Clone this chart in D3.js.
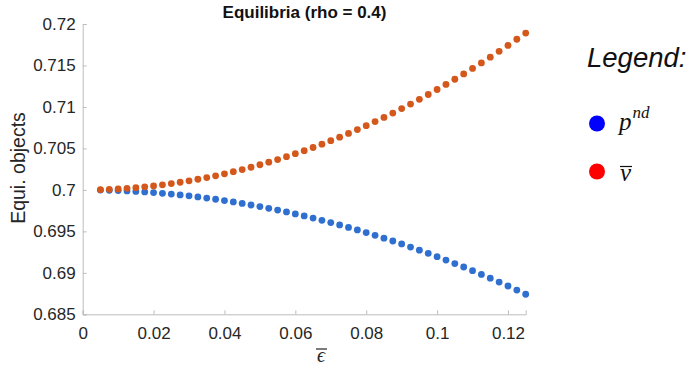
<!DOCTYPE html>
<html>
<head>
<meta charset="utf-8">
<script src="https://cdn.jsdelivr.net/npm/d3@7"></script>
<style>
  body { margin: 0; background: #fff; }
  svg { display: block; }
</style>
</head>
<body>
<svg id="chart" width="691" height="368"></svg>
<script>
// epsilon bar grid, 0.005 : 0.0025 : 0.125
const epsBar = [
  0.005, 0.0075, 0.01, 0.0125, 0.015, 0.0175, 0.02, 0.0225, 0.025, 0.0275,
  0.03, 0.0325, 0.035, 0.0375, 0.04, 0.0425, 0.045, 0.0475, 0.05, 0.0525,
  0.055, 0.0575, 0.06, 0.0625, 0.065, 0.0675, 0.07, 0.0725, 0.075, 0.0775,
  0.08, 0.0825, 0.085, 0.0875, 0.09, 0.0925, 0.095, 0.0975, 0.1, 0.1025,
  0.105, 0.1075, 0.11, 0.1125, 0.115, 0.1175, 0.12, 0.1225, 0.125
];

const pNd = [
  0.69998, 0.69995, 0.69992, 0.69987, 0.69982, 0.69975, 0.69968, 0.69959, 0.69950, 0.69939,
  0.69928, 0.69915, 0.69901, 0.69887, 0.69871, 0.69855, 0.69837, 0.69818, 0.69799, 0.69778,
  0.69756, 0.69734, 0.69710, 0.69686, 0.69660, 0.69633, 0.69606, 0.69577, 0.69547, 0.69517,
  0.69485, 0.69452, 0.69418, 0.69384, 0.69348, 0.69311, 0.69273, 0.69235, 0.69195, 0.69154,
  0.69112, 0.69070, 0.69026, 0.68981, 0.68935, 0.68889, 0.68841, 0.68792, 0.68742
];

const vBar = [
  0.70003, 0.70007, 0.70012, 0.70019, 0.70027, 0.70037, 0.70048, 0.70061, 0.70076, 0.70092,
  0.70109, 0.70128, 0.70148, 0.70170, 0.70194, 0.70219, 0.70245, 0.70273, 0.70303, 0.70334,
  0.70366, 0.70400, 0.70436, 0.70473, 0.70511, 0.70551, 0.70593, 0.70636, 0.70681, 0.70727,
  0.70774, 0.70824, 0.70874, 0.70926, 0.70980, 0.71035, 0.71092, 0.71150, 0.71210, 0.71271,
  0.71334, 0.71398, 0.71464, 0.71531, 0.71600, 0.71671, 0.71742, 0.71816, 0.71891
];

const xTicks = [0, 0.02, 0.04, 0.06, 0.08, 0.1, 0.12];
const yTicks = [0.685, 0.69, 0.695, 0.7, 0.705, 0.71, 0.715, 0.72];

const svg = d3.select('#chart');
const font = '"Liberation Sans", Arial, Helvetica, sans-serif';
const mathFont = '"Liberation Serif", "DejaVu Serif", serif';

const x = d3.scaleLinear().domain([0, 0.125]).range([82.7, 525.7]);
const y = d3.scaleLinear().domain([0.685, 0.72]).range([314.3, 24]);

const axisColor = '#bdbdbd';

// x axis (ticks point inwards, like matlab)
const gx = svg.append('g')
  .attr('transform', `translate(0,${y(0.685)})`)
  .call(d3.axisBottom(x).tickValues(xTicks).tickSize(-4).tickPadding(10)
    .tickFormat(d => d3.format('')(+d.toFixed(2))));
gx.select('.domain').attr('stroke', axisColor);
gx.selectAll('.tick line').attr('stroke', axisColor);
gx.selectAll('.tick text')
  .attr('fill', '#262626').style('font-family', font).style('font-size', '17px')
  .attr('dy', '0.85em');

// y axis
const gy = svg.append('g')
  .attr('transform', `translate(${x(0)},0)`)
  .call(d3.axisLeft(y).tickValues(yTicks).tickSize(-4).tickPadding(7)
    .tickFormat(d => d3.format('')(+d.toFixed(3))));
gy.select('.domain').attr('stroke', axisColor);
gy.selectAll('.tick line').attr('stroke', axisColor);
gy.selectAll('.tick text')
  .attr('fill', '#262626').style('font-family', font).style('font-size', '17px');

// points
const series = [
  { values: pNd, color: '#2f6fcf' },
  { values: vBar, color: '#d4581c' }
];
series.forEach(s => {
  svg.append('g').selectAll('circle')
    .data(epsBar.map((e, i) => [e, s.values[i]]))
    .enter().append('circle')
    .attr('cx', d => x(d[0]))
    .attr('cy', d => y(d[1]))
    .attr('r', 3.4)
    .attr('fill', s.color);
});

// title
svg.append('text')
  .attr('x', 304.5).attr('y', 18)
  .attr('text-anchor', 'middle')
  .style('font-family', font).style('font-size', '17px').style('font-weight', 'bold')
  .attr('fill', '#111')
  .text('Equilibria (rho = 0.4)');

// y label
svg.append('text')
  .attr('transform', 'translate(25,168) rotate(-90)')
  .attr('text-anchor', 'middle')
  .style('font-family', font).style('font-size', '19.5px')
  .attr('fill', '#262626')
  .text('Equi. objects');

// x label: epsilon bar
svg.append('text')
  .attr('x', 321).attr('y', 362)
  .attr('text-anchor', 'middle')
  .style('font-family', mathFont).style('font-size', '20px').style('font-style', 'italic')
  .attr('fill', '#262626')
  .text('\u03F5');
svg.append('line')
  .attr('x1', 316).attr('x2', 327).attr('y1', 349).attr('y2', 349)
  .attr('stroke', '#262626').attr('stroke-width', 1.2);

// legend
svg.append('text')
  .attr('x', 587).attr('y', 67)
  .style('font-family', font).style('font-size', '27.5px').style('font-style', 'italic')
  .attr('fill', '#111')
  .text('Legend:');

svg.append('circle').attr('cx', 597).attr('cy', 123.5).attr('r', 8).attr('fill', '#0000ff');
svg.append('circle').attr('cx', 597).attr('cy', 171.5).attr('r', 8).attr('fill', '#ff0000');

const pLab = svg.append('text')
  .attr('x', 619).attr('y', 130)
  .style('font-family', mathFont).style('font-style', 'italic').style('font-size', '25px')
  .attr('fill', '#111');
pLab.append('tspan').text('p');
pLab.append('tspan').attr('dy', -12).attr('dx', 1).style('font-size', '17px').text('nd');

svg.append('text')
  .attr('x', 620).attr('y', 181)
  .style('font-family', mathFont).style('font-style', 'italic').style('font-size', '25px')
  .attr('fill', '#111')
  .text('v');
svg.append('line')
  .attr('x1', 620).attr('x2', 632).attr('y1', 166.5).attr('y2', 166.5)
  .attr('stroke', '#111').attr('stroke-width', 1.2);
</script>
</body>
</html>
